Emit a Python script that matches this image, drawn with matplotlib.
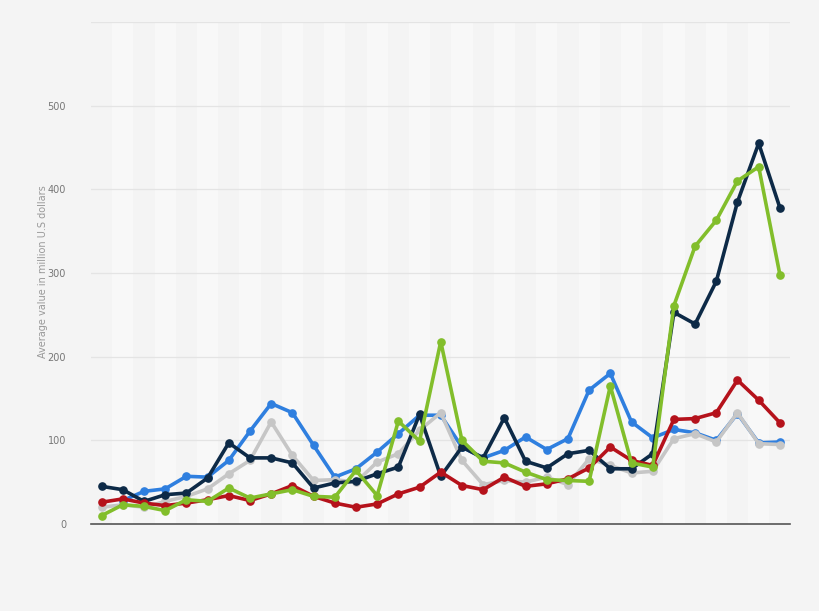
import numpy as np
import matplotlib.pyplot as plt

# 33 yearly points, no x labels shown in the reference
navy = [45, 41, 27, 35, 37, 55, 97, 79, 79, 73, 43, 49, 51, 60, 68, 131, 57,
        92, 79, 127, 75, 67, 84, 88, 66, 66, 84, 253, 239, 290, 385, 455, 378]
blue = [np.nan, 28, 39, 42, 57, 56, 76, 111, 144, 133, 94, 56, 66, 86, 108, 130, 130,
        92, 79, 88, 104, 89, 102, 160, 180, 122, 103, 113, 109, 100, 132, 97, 98]
gray = [20, 23, 20, 27, 33, 42, 60, 76, 122, 82, 52, 53, 50, 74, 84, 112, 133,
        76, 47, 52, 50, 56, 47, 78, 70, 61, 63, 102, 108, 98, 133, 96, 95]
red = [26, 30, 25, 22, 25, 29, 34, 28, 36, 46, 33, 25, 20, 24, 36, 44, 62,
       46, 41, 56, 45, 48, 54, 67, 92, 76, 70, 125, 126, 133, 172, 148, 121]
green = [10, 23, 21, 16, 29, 27, 43, 31, 36, 41, 33, 32, 64, 34, 123, 99, 218,
         100, 75, 73, 62, 53, 52, 51, 165, 73, 68, 261, 332, 363, 410, 427, 298]

yticks = [0, 100, 200, 300, 400, 500]


def main():
    fig = plt.figure(figsize=(8.2, 6.11), dpi=100, facecolor="#f4f4f4")
    ax = fig.add_axes([0.111, 0.1424, 0.853, 0.8216])
    ax.set_facecolor("#f4f4f4")

    x = np.arange(len(navy))
    # alternating column bands
    for i in x:
        if i % 2 == 1:
            ax.axvspan(i - 0.5, i + 0.5, color="#f8f8f8", zorder=0, lw=0)

    for v in range(100, 601, 100):
        ax.axhline(v, color="#e4e4e4", lw=0.9, zorder=1)

    series = [(blue, "#2f7fdf"), (gray, "#c6c6c6"), (navy, "#0d2a47"),
              (red, "#b5121b"), (green, "#82be2b")]
    for vals, col in series:
        ax.plot(x, vals, color=col, lw=2.6, marker="o", ms=5.2, zorder=3,
                solid_capstyle="round")

    ax.set_xlim(-0.5, len(navy) - 0.5)
    ax.set_ylim(0, 600)
    ax.set_xticks([])
    ax.set_yticks(yticks)
    ax.set_yticklabels([str(t) for t in yticks], color="#777777", fontsize=7)
    ax.tick_params(axis="y", length=0, pad=18)
    for s in ["top", "right", "left"]:
        ax.spines[s].set_visible(False)
    ax.spines["bottom"].set_color("#555555")
    ax.spines["bottom"].set_linewidth(1.2)

    fig.text(0.052, 0.555, "Average value in million U.S dollars", rotation=90,
             ha="center", va="center", fontsize=7, color="#999999")

    fig.savefig("out.png", dpi=100, facecolor=fig.get_facecolor())


if __name__ == "__main__":
    main()
